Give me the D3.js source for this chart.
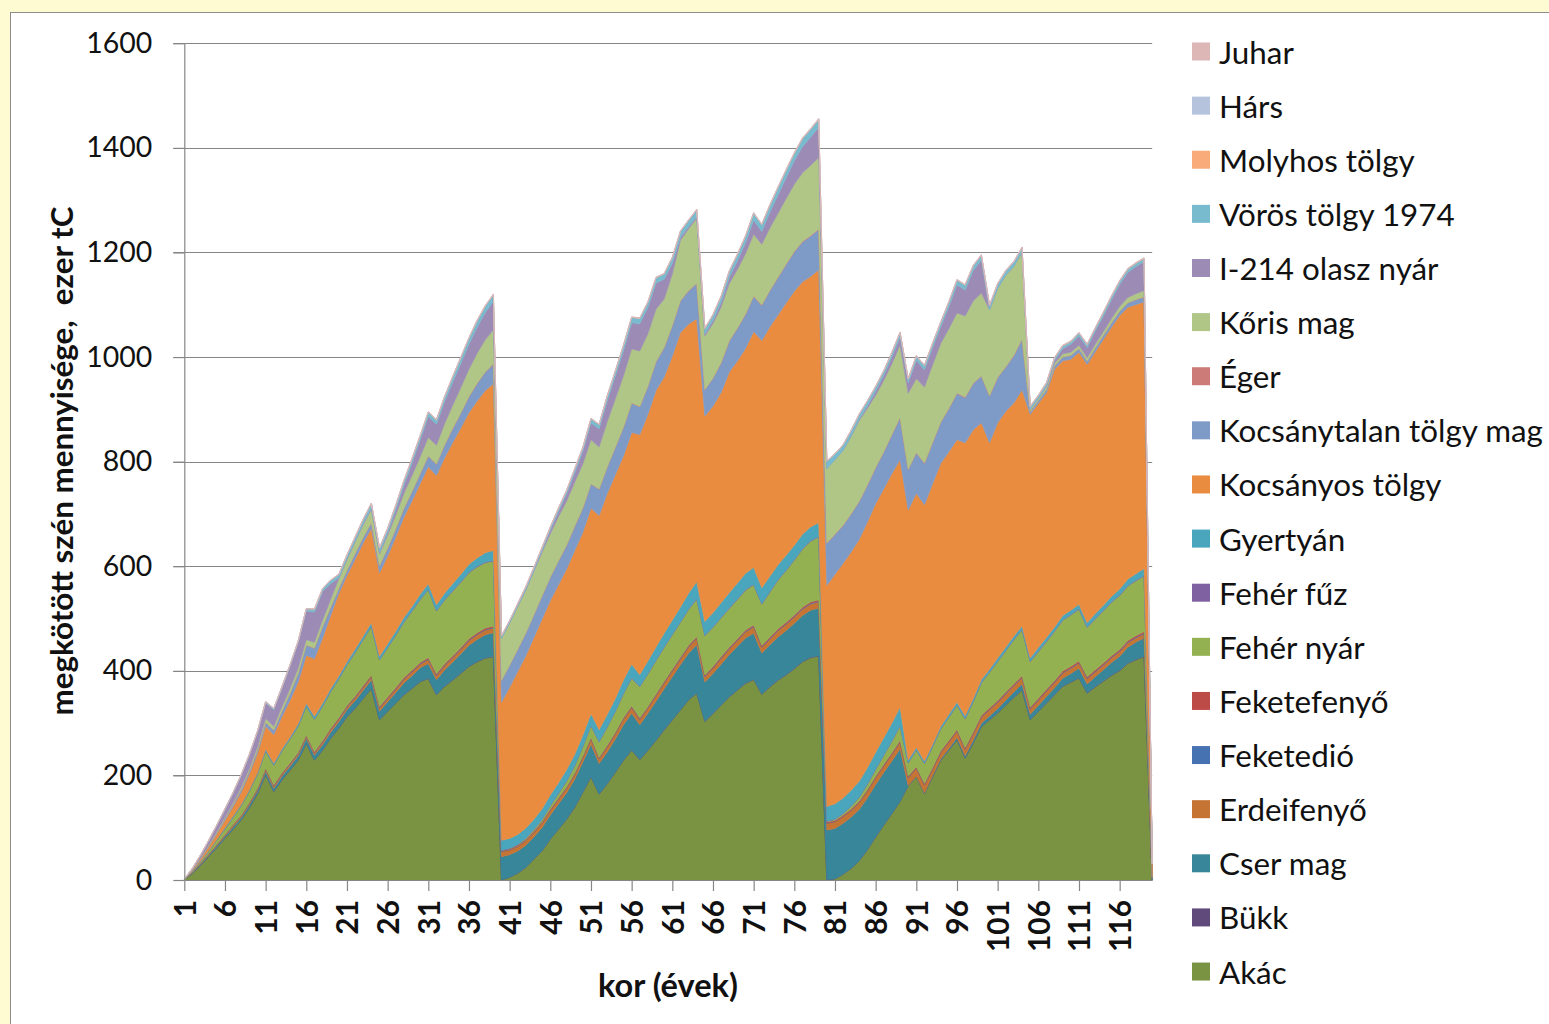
<!DOCTYPE html>
<html><head><meta charset="utf-8">
<script src="https://cdn.jsdelivr.net/npm/d3@7"></script>
<style>
body{margin:0;background:#fff;}
svg{display:block;}
text{font-family:Lato,"Open Sans",sans-serif;}
</style>
</head><body>
<svg id="chart" width="1549" height="1024"></svg>
<script>
// ---------------- DATA ----------------
const categories = d3.range(1, 121);
const xTickLabels = [1,6,11,16,21,26,31,36,41,46,51,56,61,66,71,76,81,86,91,96,101,106,111,116];
const yTickValues = [0,200,400,600,800,1000,1200,1400,1600];

const seriesNames = ["Akác","Bükk","Cser mag","Erdeifenyő","Feketedió","Feketefenyő","Fehér nyár","Fehér fűz","Gyertyán","Kocsányos tölgy","Kocsánytalan tölgy mag","Éger","Kőris mag","I-214 olasz nyár","Vörös tölgy 1974","Molyhos tölgy","Hárs","Juhar"];
const seriesColors = ["#7A9343","#604A7B","#37869A","#C67434","#4672B2","#BC4B48","#94B152","#7F61A1","#49A6BD","#E98C40","#7E9BC8","#CD7B79","#AFC686","#9C8BB5","#79BBCE","#F9AB79","#B6C3DD","#DDB6B6"];

const akac = [
2,12,28,45,62,80,97,115,138,165,
201,169,191,210,229,261,229,248,271,290,
312,328,347,366,306,322,338,354,366,379,
385,354,370,382,395,408,417,424,427,
0,5,13,24,40,56,78,97,116,139,168,
197,164,184,206,229,248,230,248,267,287,
306,325,344,357,303,318,334,350,363,376,
383,355,369,382,392,404,417,425,428,
0,2,11,22,37,58,82,105,127,150,180,
197,165,197,229,248,268,233,262,293,306,
319,334,349,363,306,322,338,354,370,378,
386,357,369,380,391,400,414,421,427,0];

const bukk = [
0,0.2,0.2,0.3,0.3,0.3,0.4,0.4,0.4,0.5,
0.5,0.5,0.5,0.5,0.6,0.6,0.6,0.6,0.6,0.6,
0.7,0.7,0.7,0.7,0.7,0.7,0.7,0.8,0.8,0.8,
0.8,0.8,0.8,0.8,0.8,0.9,0.9,0.9,0.9,
0.4,0.4,0.4,0.4,0.5,0.5,0.5,0.5,0.5,0.6,0.6,
0.6,0.6,0.6,0.6,0.7,0.7,0.7,0.7,0.7,0.7,
0.7,0.8,0.8,0.8,0.8,0.8,0.8,0.8,0.8,0.8,
0.9,0.9,0.9,0.9,0.9,0.9,0.9,0.9,0.9,
0.4,0.4,0.4,0.4,0.5,0.5,0.5,0.5,0.5,0.6,0.6,
0.6,0.6,0.6,0.6,0.7,0.7,0.7,0.7,0.7,0.7,
0.7,0.8,0.8,0.8,0.8,0.8,0.8,0.8,0.8,0.8,
0.9,0.9,0.9,0.9,0.9,0.9,0.9,0.9,0.9,0];

const cser = [
0,1,2,2,3,3,4,4,5,5,
6,6,7,7,8,9,9,10,11,12,
13,14,15,16,16,18,20,22,24,26,
28,28,31,34,37,40,42,44,45,
44,43,42,42,42,44,46,48,50,53,57,
62,58,60,63,67,70,66,70,74,78,
82,86,89,92,75,76,78,80,83,86,
88,78,80,82,84,86,88,90,91,
95,96,97,98,98,99,100,100,100,100,0,
1,1,2,2,3,4,4,5,6,7,
8,9,10,11,10,11,12,13,15,16,
18,17,19,21,24,27,30,33,35,2];

const erdeifenyo = [
0,1,1,2,2,2,3,3,3,3,
4,4,4,4,4,4,4,5,5,5,
5,6,6,6,6,6,6,7,7,7,
8,8,8,8,8,9,9,9,9,
10,9,9,9,9,9,9,9,9,9,9,
10,9,10,10,11,11,10,10,11,11,
11,11,12,12,10,10,11,11,11,12,
12,11,11,12,12,12,12,12,12,
13,13,13,13,13,13,13,13,13,13,15,
15,15,12,12,12,12,12,12,12,12,
12,12,12,12,10,10,10,10,10,10,
10,10,9,9,9,9,9,8,8,1];

const feketedio = [
0,0.2,0.3,0.3,0.4,0.4,0.5,0.5,0.6,0.6,
0.7,0.7,0.7,0.8,0.8,0.8,0.8,0.9,0.9,0.9,
1,1,1,1,1,1,1.1,1.1,1.1,1.1,
1.2,1.2,1.2,1.2,1.2,1.3,1.3,1.3,1.3,
0.5,0.5,0.5,0.6,0.6,0.6,0.7,0.7,0.7,0.8,0.8,
0.8,0.8,0.9,0.9,0.9,1,1,1,1,1,
1.1,1.1,1.1,1.1,1.1,1.1,1.2,1.2,1.2,1.2,
1.2,1.2,1.3,1.3,1.3,1.3,1.3,1.4,1.4,
0.5,0.5,0.5,0.6,0.6,0.6,0.7,0.7,0.7,0.8,0.8,
0.8,0.8,0.9,0.9,0.9,1,1,1,1,1,
1.1,1.1,1.1,1.1,1.1,1.1,1.2,1.2,1.2,1.2,
1.2,1.2,1.3,1.3,1.3,1.3,1.3,1.4,1.4,0];

const feketefenyo = [
0,0.3,0.5,0.6,0.8,0.9,1,1.1,1.2,1.3,
1.4,1.4,1.5,1.5,1.6,1.6,1.7,1.7,1.8,1.8,
1.9,1.9,2,2,2,2.1,2.1,2.2,2.2,2.2,
2.3,2.3,2.3,2.4,2.4,2.4,2.5,2.5,2.5,
1.5,1.5,1.5,1.6,1.6,1.6,1.7,1.7,1.7,1.8,1.8,
1.8,1.8,1.9,1.9,1.9,2,2,2,2,2.1,
2.1,2.1,2.2,2.2,2.2,2.2,2.3,2.3,2.3,2.3,
2.4,2.4,2.4,2.4,2.5,2.5,2.5,2.5,2.5,
2,2,2,2,2.1,2.1,2.1,2.1,2.2,2.2,2.2,
2.2,2.2,2.3,2.3,2.3,2.3,2.4,2.4,2.4,2.4,
2.5,2.5,2.5,2.5,2.5,2.6,2.6,2.6,2.6,2.6,
2.7,2.7,2.7,2.7,2.8,2.8,2.8,2.8,2.8,0];

const feherNyar = [
0,1,3,5,8,11,14,18,22,27,
33,38,42,46,50,55,62,66,70,74,
78,83,88,93,89,94,100,106,113,120,
130,120,122,124,125,126,126,125,124,
0,0.5,1,2,3,4,6,8,11,14,18,
23,30,35,40,46,53,60,62,64,65,
66,67,68,72,75,75,74,74,75,76,
77,79,86,93,99,105,111,116,120,
1,2,3,5,7,10,13,17,22,28,25,
32,38,40,42,44,46,55,58,62,68,
74,79,84,88,87,89,91,94,97,98,
99,94,97,100,102,103,104,105,106,2];

const feherFuz = [
0,0.1,0.2,0.3,0.3,0.4,0.4,0.5,0.5,0.6,
0.6,0.6,0.7,0.7,0.7,0.8,0.8,0.8,0.9,0.9,
0.9,0.9,1,1,1,1,1,1,1.1,1.1,
1.1,1.1,1.1,1.2,1.2,1.2,1.2,1.2,1.2,
0.6,0.6,0.6,0.7,0.7,0.7,0.7,0.8,0.8,0.8,0.8,
0.9,0.9,0.9,0.9,0.9,1,1,1,1,1,
1,1,1.1,1.1,1.1,1.1,1.1,1.1,1.2,1.2,
1.2,1.2,1.2,1.2,1.2,1.3,1.3,1.3,1.3,
0.8,0.8,0.8,0.8,0.9,0.9,0.9,0.9,0.9,1,1,
1,1,1,1,1,1.1,1.1,1.1,1.1,1.1,
1.1,1.1,1.2,1.2,1.2,1.2,1.2,1.2,1.2,1.3,
1.3,1.3,1.3,1.3,1.3,1.3,1.3,1.4,1.4,0];

const gyertyan = [
0,1,1,1,1,2,2,2,2,2,
3,3,3,3,4,5,5,5,5,5,
5,6,6,6,6,7,7,8,8,9,
10,11,12,13,14,15,16,18,19,
19,19,19,19,19,20,20,20,21,21,21,
22,22,23,24,25,26,22,24,25,26,
27,28,30,32,26,27,28,29,30,31,
32,30,29,28,28,27,27,26,26,
28,29,29,30,30,31,32,33,34,35,5,
4,4,4,4,5,5,5,5,5,5,
6,6,6,6,6,7,7,7,8,8,
8,8,9,9,10,11,12,12,13,1];

const kocsanyos = [
0,2,4,7,10,14,18,24,30,37,
44,55,62,70,80,92,110,125,140,158,
165,172,178,181,160,168,180,192,202,212,
224,247,259,270,280,290,300,310,319,
264,289,312,330,348,363,372,379,384,390,388,
393,410,423,428,429,443,459,472,491,490,
505,525,515,503,393,395,402,422,425,430,
451,473,477,478,483,486,483,479,484,
423,439,449,456,463,470,476,476,477,473,478,
486,490,498,503,502,502,522,514,491,433,
450,451,446,452,466,467,468,493,487,480,
482,494,501,509,515,523,520,515,510,25];

const kocsanytalan = [
0,0.5,1,1.5,2,3,4,5,5,6,
7,8,10,13,16,19,20,21,15,9,
9,10,10,10,13,14,15,16,17,18,
20,21,24,26,28,30,33,35,37,
41,42,42,43,43,44,44,45,45,46,46,
46,50,50,52,54,56,53,53,54,56,
58,60,63,67,50,53,56,59,62,65,
67,67,69,71,73,75,76,77,77,
80,76,72,72,72,70,68,70,74,80,77,
77,79,78,78,82,88,86,88,89,89,
86,84,90,96,5,5,6,6,7,7,
7,6,7,7,8,8,8,9,9,0];

const eger = [
0,0.1,0.2,0.2,0.3,0.3,0.4,0.4,0.5,0.5,
0.5,0.6,0.6,0.6,0.7,0.7,0.7,0.8,0.8,0.8,
0.8,0.9,0.9,0.9,0.9,1,1,1,1,1,
1,1.1,1.1,1.1,1.1,1.1,1.2,1.2,1.2,
0.5,0.5,0.6,0.6,0.6,0.7,0.7,0.7,0.7,0.8,0.8,
0.8,0.8,0.9,0.9,0.9,0.9,1,1,1,1,
1,1.1,1.1,1.1,1,1,1.1,1.1,1.1,1.2,
1.2,1.2,1.2,1.2,1.3,1.3,1.3,1.3,1.3,
1,1,1,1,1,1,1,1.1,1.1,1.1,1.1,
1.1,1.1,1.1,1.1,1.2,1.2,1.2,1.2,1.2,1.2,
1.2,1.2,1.3,1.3,0.3,0.3,0.3,0.4,0.4,0.4,
0.4,0.4,0.5,0.5,0.5,0.5,0.6,0.6,0.6,0];

const koris = [
0,0.5,1,1.5,2,2.5,3,4,5,6,
7,7,8,9,10,10,11,12,15,18,
20,22,24,25,22,24,26,28,30,32,
35,36,40,44,48,52,57,61,65,
81,81,82,82,83,83,83,84,84,84,84,
84,80,86,92,98,103,106,100,100,92,
98,115,118,124,102,104,106,109,112,115,
118,116,119,122,125,128,131,134,136,
142,142,143,148,154,146,138,136,135,138,145,
141,145,148,150,152,153,155,157,158,164,
170,175,170,165,4,4,5,5,6,6,
6,6,7,7,8,9,10,11,12,0];

const i214 = [
0,2,5,8,12,15,18,22,25,28,
30,32,35,42,48,55,58,55,30,2,
2,2,2,3,3,5,10,16,24,32,
40,40,42,44,46,48,50,52,54,
0,0,0.5,1,2,4,7,10,14,18,24,
32,35,40,44,48,50,52,50,50,38,
20,6,4,4,4,6,9,12,16,21,
27,24,30,35,40,45,50,54,58,
0,0,0,1,3,5,8,10,13,16,20,
35,33,33,32,42,54,50,58,63,0,
0,0,0,1,0,0,2,5,10,15,
18,20,25,30,36,42,48,52,55,0];

const voros = [
0,0.5,0.5,1,1,1,1.5,1.5,2,2,
2,2,3,3,3,4,5,5,6,6,
7,7,8,8,8,8,8,8,8,8,
8,8,9,10,11,11,12,12,13,
4,4,4,5,5,5,5,6,6,7,7,
8,8,9,9,10,10,10,10,10,10,
11,11,12,12,10,10,11,11,12,12,
13,13,13,14,14,14,15,15,15,
14,11,10,10,9,9,8,8,8,8,7,
8,8,8,8,9,9,9,9,9,8,
8,8,8,8,5,5,5,5,5,5,
5,5,5,6,6,6,6,6,6,0];

const molyhos = [
0,0.1,0.1,0.1,0.1,0.2,0.2,0.2,0.2,0.2,
0.3,0.3,0.3,0.3,0.3,0.3,0.4,0.4,0.4,0.4,
0.4,0.4,0.4,0.5,0.5,0.5,0.5,0.5,0.5,0.5,
0.5,0.6,0.6,0.6,0.6,0.6,0.6,0.6,0.6,
0.3,0.3,0.3,0.3,0.3,0.3,0.4,0.4,0.4,0.4,0.4,
0.4,0.4,0.4,0.5,0.5,0.5,0.5,0.5,0.5,0.5,
0.5,0.5,0.6,0.6,0.6,0.6,0.6,0.6,0.6,0.6,
0.6,0.6,0.7,0.7,0.7,0.7,0.7,0.7,0.7,
0.4,0.4,0.4,0.4,0.4,0.4,0.4,0.5,0.5,0.5,0.5,
0.5,0.5,0.5,0.5,0.5,0.5,0.6,0.6,0.6,0.6,
0.6,0.6,0.6,0.6,0.6,0.6,0.6,0.6,0.7,0.7,
0.7,0.7,0.7,0.7,0.7,0.7,0.7,0.7,0.7,0];

const hars = [
0,0.1,0.1,0.1,0.1,0.1,0.2,0.2,0.2,0.2,
0.2,0.2,0.2,0.3,0.3,0.3,0.3,0.3,0.3,0.3,
0.3,0.3,0.4,0.4,0.4,0.4,0.4,0.4,0.4,0.4,
0.4,0.4,0.5,0.5,0.5,0.5,0.5,0.5,0.5,
0.2,0.2,0.2,0.2,0.2,0.3,0.3,0.3,0.3,0.3,0.3,
0.3,0.3,0.3,0.4,0.4,0.4,0.4,0.4,0.4,0.4,
0.4,0.4,0.4,0.5,0.5,0.5,0.5,0.5,0.5,0.5,
0.5,0.5,0.5,0.5,0.5,0.5,0.6,0.6,0.6,
0.3,0.3,0.3,0.3,0.3,0.3,0.3,0.3,0.4,0.4,0.4,
0.4,0.4,0.4,0.4,0.4,0.4,0.4,0.5,0.5,0.5,
0.5,0.5,0.5,0.5,0.5,0.5,0.5,0.5,0.5,0.6,
0.6,0.6,0.6,0.6,0.6,0.6,0.6,0.6,0.6,0];

const juhar = [
0,0.1,0.1,0.1,0.1,0.1,0.1,0.2,0.2,0.2,
0.2,0.2,0.2,0.2,0.3,0.3,0.3,0.3,0.3,0.3,
0.3,0.3,0.3,0.3,0.4,0.4,0.4,0.4,0.4,0.4,
0.4,0.4,0.4,0.4,0.5,0.5,0.5,0.5,0.5,
0.2,0.2,0.2,0.2,0.2,0.2,0.3,0.3,0.3,0.3,0.3,
0.3,0.3,0.3,0.3,0.3,0.4,0.4,0.4,0.4,0.4,
0.4,0.4,0.4,0.4,0.4,0.4,0.5,0.5,0.5,0.5,
0.5,0.5,0.5,0.5,0.5,0.5,0.5,0.5,0.5,
0.3,0.3,0.3,0.3,0.3,0.3,0.3,0.3,0.3,0.4,0.4,
0.4,0.4,0.4,0.4,0.4,0.4,0.4,0.4,0.4,0.4,
0.5,0.5,0.5,0.5,0.5,0.5,0.5,0.5,0.5,0.5,
0.5,0.5,0.5,0.5,0.5,0.5,0.5,0.5,0.5,0];

const seriesValues = [akac,bukk,cser,erdeifenyo,feketedio,feketefenyo,feherNyar,feherFuz,gyertyan,kocsanyos,kocsanytalan,eger,koris,i214,voros,molyhos,hars,juhar];
seriesValues.forEach((a,k)=>{ if(a.length!==120) throw new Error(seriesNames[k]+" has "+a.length); });

// ---------------- CHART ----------------
const svg = d3.select("#chart");
const W = 1549, H = 1024;
const plot = {left:184.3, right:1152.2, top:43.3, bottom:880};

svg.append("rect").attr("width",W).attr("height",H).attr("fill","#FEFAD2");
svg.append("rect").attr("x",10.5).attr("y",12.5).attr("width",W+20).attr("height",H+20)
  .attr("fill","#ffffff").attr("stroke","#8c8c8c").attr("stroke-width",1);

const x = d3.scalePoint().domain(categories).range([plot.left, plot.right]).padding(0);
const y = d3.scaleLinear().domain([0,1600]).range([plot.bottom, plot.top]);

// gridlines
svg.append("g").selectAll("line").data(yTickValues.filter(v=>v>0)).join("line")
  .attr("x1",plot.left-11).attr("x2",plot.right)
  .attr("y1",d=>Math.round(y(d))+0.5).attr("y2",d=>Math.round(y(d))+0.5)
  .attr("stroke","#868686").attr("stroke-width",1);

// data
const rows = categories.map((c,i)=>{ const o={cat:c}; seriesNames.forEach((n,k)=>o[n]=seriesValues[k][i]); return o; });
const stack = d3.stack().keys(seriesNames);
const layers = stack(rows);
const area = d3.area().x(d=>x(d.data.cat)).y0(d=>y(d[0])).y1(d=>y(d[1]));

svg.append("g").selectAll("path").data(layers).join("path")
  .attr("d",area)
  .attr("fill",(d,i)=>seriesColors[i])
  .attr("stroke",(d,i)=>seriesColors[i])
  .attr("stroke-width",0.6)
  .attr("stroke-linejoin","round");

// axes
const yAxisG = svg.append("g").attr("transform",`translate(${plot.left},0)`)
  .call(d3.axisLeft(y).tickValues(yTickValues).tickFormat(d3.format("d")).tickSize(11).tickSizeOuter(0).tickPadding(21));
const xAxisG = svg.append("g").attr("transform",`translate(0,${plot.bottom})`)
  .call(d3.axisBottom(x).tickValues(xTickLabels).tickSize(11).tickSizeOuter(0));

[yAxisG,xAxisG].forEach(g=>{
  g.select(".domain").attr("stroke","#868686").attr("stroke-width",1.2);
  g.selectAll(".tick line").attr("stroke","#868686").attr("stroke-width",1.2);
});

function fitSize(textSel, target){
  const w = textSel.node().getComputedTextLength();
  const fs = parseFloat(textSel.attr("font-size"));
  return fs*target/w;
}

yAxisG.selectAll(".tick text").attr("font-size",28).attr("fill","#111")
  .style("font-family","Lato, 'Open Sans', sans-serif");
const y1600 = yAxisG.selectAll(".tick text").filter(d=>d===1600);
const ySize = fitSize(y1600, 66);
yAxisG.selectAll(".tick text").attr("font-size",ySize);

xAxisG.selectAll(".tick text")
  .attr("x",0).attr("y",0).attr("dy","0.36em")
  .attr("transform","translate(0,20) rotate(-90)")
  .attr("text-anchor","end")
  .attr("font-size",29).attr("font-weight","bold").attr("fill","#111")
  .style("font-family","Lato, 'Open Sans', sans-serif");
const x116 = xAxisG.selectAll(".tick text").filter(d=>d===116);
const xSize = fitSize(x116, 52);
xAxisG.selectAll(".tick text").attr("font-size",xSize);

// axis titles
const xt = svg.append("text").attr("x",668).attr("y",984)
  .attr("text-anchor","middle").attr("dominant-baseline","central")
  .attr("font-weight","bold").attr("font-size",28).attr("fill","#111")
  .text("kor (évek)");
xt.attr("font-size",fitSize(xt,140));

const yt = svg.append("text").attr("transform","translate(61,461) rotate(-90)")
  .attr("text-anchor","middle").attr("dominant-baseline","central")
  .attr("font-weight","bold").attr("font-size",24).attr("fill","#111")
  .style("white-space","pre")
  .text("megkötött szén mennyisége,  ezer tC");
yt.attr("font-size",fitSize(yt,509));

// legend (top = last series)
const legendItems = seriesNames.map((n,i)=>({name:n,color:seriesColors[i]})).reverse();
const lg = svg.append("g");
const li = lg.selectAll("g").data(legendItems).join("g")
  .attr("transform",(d,i)=>`translate(1192,${51.5+i*54.12})`);
li.append("rect").attr("x",0).attr("y",-9).attr("width",18).attr("height",18).attr("fill",d=>d.color);
const lt = li.append("text").attr("x",27).attr("y",0).attr("dominant-baseline","central")
  .attr("font-size",26).attr("fill","#111").text(d=>d.name);
const longest = lt.filter(d=>d.name==="Kocsánytalan tölgy mag");
const lSize = fitSize(longest, 324);
lt.attr("font-size",lSize);
</script>
</body></html>
